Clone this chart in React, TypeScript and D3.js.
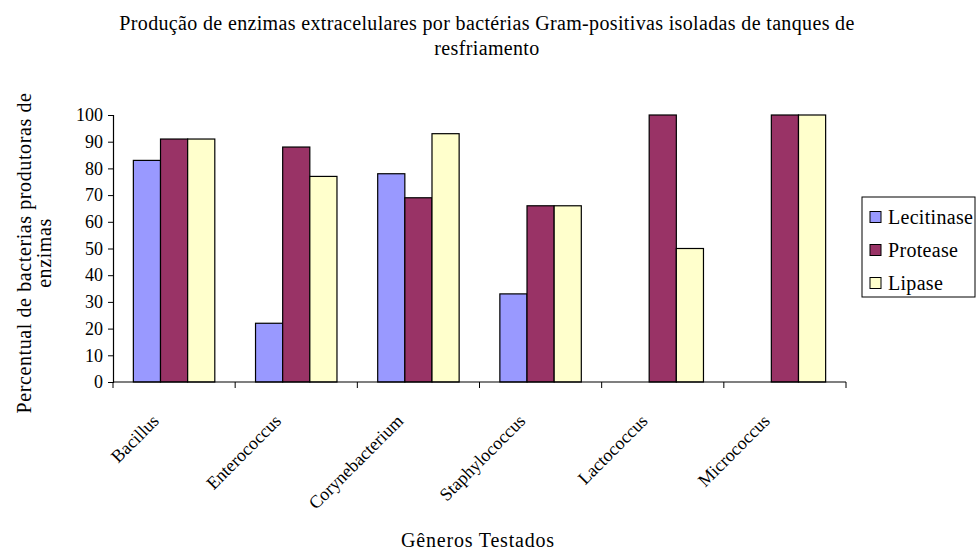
import React, { useEffect, useRef } from "react";
import * as d3 from "d3";

const generos = [
  "Bacillus",
  "Enterococcus",
  "Corynebacterium",
  "Staphylococcus",
  "Lactococcus",
  "Micrococcus",
];
const enzimas = ["Lecitinase", "Protease", "Lipase"];
const lecitinase = [83, 22, 78, 33, 0, 0];
const protease = [91, 88, 69, 66, 100, 100];
const lipase = [91, 77, 93, 66, 50, 100];
const yTicks = [0, 10, 20, 30, 40, 50, 60, 70, 80, 90, 100];
const cores = ["#9999ff", "#993366", "#ffffcc"];

const W = 976;
const H = 552;
const plot = { left: 113, right: 846, top: 115, bottom: 382 };
const font = "'Liberation Serif', 'Times New Roman', Times, serif";

const App: React.FC = () => {
  const svgRef = useRef<SVGSVGElement>(null);

  useEffect(() => {
    const svg = d3.select(svgRef.current);
    svg.selectAll("*").remove();

    const series = [lecitinase, protease, lipase];
    const rows = generos.map((g, i) => ({
      genero: g,
      valores: enzimas.map((e, j) => ({ enzima: e, valor: series[j][i] })),
    }));

    const x0 = d3
      .scaleBand()
      .domain(generos)
      .range([plot.left, plot.right])
      .padding(0);
    const x1 = d3
      .scaleBand()
      .domain(enzimas)
      .range([0, x0.bandwidth()])
      .paddingInner(0)
      .paddingOuter(0.75);
    const y = d3
      .scaleLinear()
      .domain([0, 100])
      .range([plot.bottom, plot.top]);
    const color = d3.scaleOrdinal<string>().domain(enzimas).range(cores);

    // title
    const title = svg
      .append("text")
      .attr("text-anchor", "middle")
      .style("font-family", font)
      .style("font-size", "20px")
      .style("letter-spacing", "0.35px")
      .attr("fill", "#000");
    title
      .append("tspan")
      .attr("x", 487)
      .attr("y", 30)
      .text(
        "Produção de enzimas extracelulares por bactérias Gram-positivas isoladas de tanques de"
      );
    title.append("tspan").attr("x", 487).attr("y", 55).text("resfriamento");

    // bars
    const groups = svg
      .append("g")
      .selectAll("g")
      .data(rows)
      .enter()
      .append("g")
      .attr("transform", (d) => `translate(${x0(d.genero)},0)`);

    groups
      .selectAll("rect")
      .data((d) => d.valores)
      .enter()
      .append("rect")
      .attr("x", (d) => x1(d.enzima) as number)
      .attr("y", (d) => y(d.valor))
      .attr("width", x1.bandwidth())
      .attr("height", (d) => plot.bottom - y(d.valor))
      .attr("fill", (d) => color(d.enzima))
      .attr("stroke", "#000")
      .attr("stroke-width", 1.2);

    // y axis
    const yAxis = d3
      .axisLeft(y)
      .tickValues(yTicks)
      .tickSize(5)
      .tickPadding(5)
      .tickFormat(d3.format("d"));
    svg
      .append("g")
      .attr("transform", `translate(${plot.left},0)`)
      .call(yAxis)
      .call((g) => g.select(".domain").attr("stroke", "#000").attr("stroke-width", 1.2))
      .call((g) => g.selectAll("line").attr("stroke", "#000"))
      .call((g) =>
        g
          .selectAll("text")
          .style("font-family", font)
          .style("font-size", "18px")
          .attr("fill", "#000")
      );

    // x axis line with ticks at category boundaries
    const boundaries = generos.map((g) => x0(g) as number).concat([plot.right]);
    const xAxis = svg.append("g");
    xAxis
      .append("line")
      .attr("x1", plot.left)
      .attr("x2", plot.right)
      .attr("y1", plot.bottom)
      .attr("y2", plot.bottom)
      .attr("stroke", "#000")
      .attr("stroke-width", 1.2);
    xAxis
      .selectAll(".tick")
      .data(boundaries)
      .enter()
      .append("line")
      .attr("x1", (d) => d)
      .attr("x2", (d) => d)
      .attr("y1", plot.bottom)
      .attr("y2", plot.bottom + 6)
      .attr("stroke", "#000");
    xAxis
      .selectAll(".lbl")
      .data(generos)
      .enter()
      .append("text")
      .attr(
        "transform",
        (d) =>
          `translate(${(x0(d) as number) + x0.bandwidth() / 2 - 14},${plot.bottom + 40}) rotate(-45)`
      )
      .attr("text-anchor", "end")
      .style("font-family", font)
      .style("font-size", "18px")
      .attr("fill", "#000")
      .text((d) => d);

    // axis titles
    svg
      .append("text")
      .attr("x", 478)
      .attr("y", 547)
      .attr("text-anchor", "middle")
      .style("font-family", font)
      .style("font-size", "20px")
      .style("letter-spacing", "0.8px")
      .text("Gêneros Testados");

    const yTitle = svg
      .append("text")
      .attr("transform", "translate(0,253) rotate(-90)")
      .attr("text-anchor", "middle")
      .style("font-family", font)
      .style("font-size", "20px")
      .style("letter-spacing", "0.6px");
    yTitle
      .append("tspan")
      .attr("x", 0)
      .attr("y", 31)
      .text("Percentual de bacterias produtoras de");
    yTitle.append("tspan").attr("x", 0).attr("y", 51).text("enzimas");

    // legend
    const legend = svg.append("g").attr("transform", "translate(862,197)");
    legend
      .append("rect")
      .attr("width", 113)
      .attr("height", 100)
      .attr("fill", "#fff")
      .attr("stroke", "#000");
    const item = legend
      .selectAll(".item")
      .data(enzimas)
      .enter()
      .append("g")
      .attr("transform", (_, i) => `translate(8,${20 + i * 33})`);
    item
      .append("rect")
      .attr("y", -5.5)
      .attr("width", 11)
      .attr("height", 11)
      .attr("fill", (d) => color(d))
      .attr("stroke", "#000");
    item
      .append("text")
      .attr("x", 18)
      .attr("y", 7)
      .style("font-family", font)
      .style("font-size", "20px")
      .style("letter-spacing", "0.3px")
      .text((d) => d);
  }, []);

  return (
    <svg
      ref={svgRef}
      width={W}
      height={H}
      style={{ position: "absolute", left: 0, top: 0, background: "#fff" }}
    />
  );
};

export default App;
